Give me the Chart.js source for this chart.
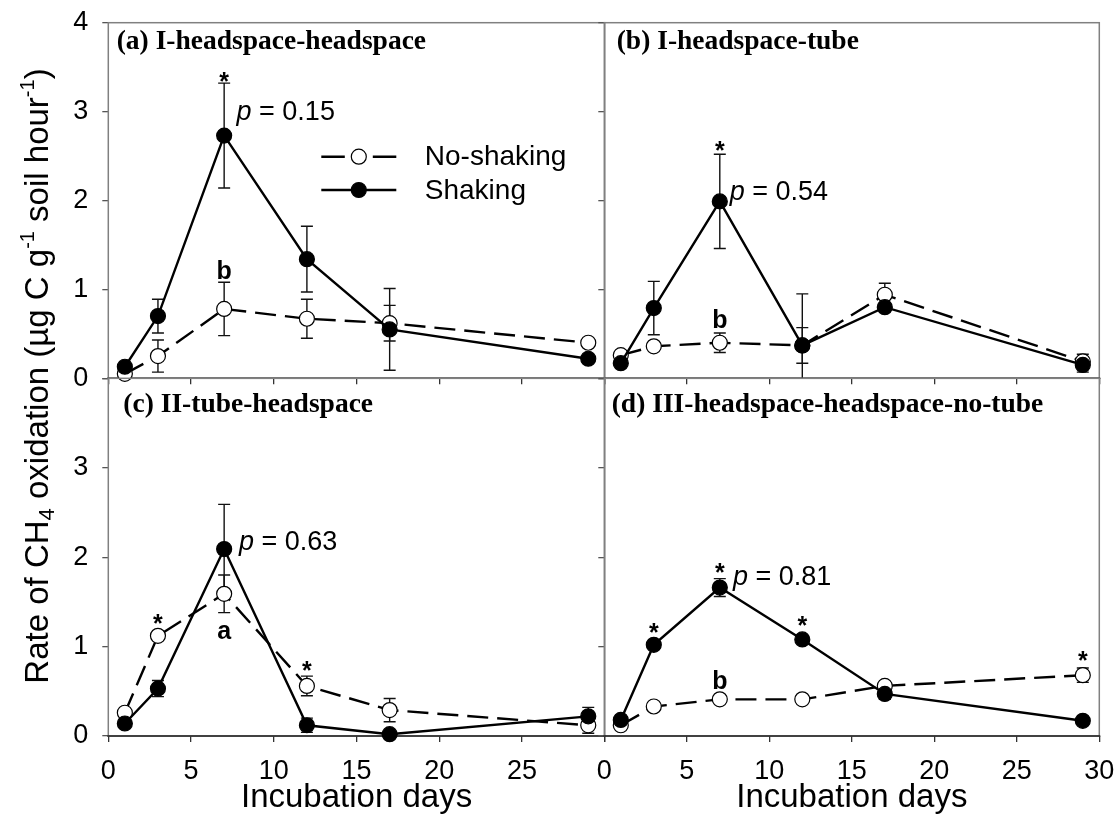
<!DOCTYPE html>
<html>
<head>
<meta charset="utf-8">
<script src="https://cdn.jsdelivr.net/npm/chart.js@4/dist/chart.umd.min.js"></script>
<style>
  html, body { margin: 0; padding: 0; background: #fff; }
  #wrap { position: relative; width: 1119px; height: 818px; overflow: hidden; }
  #wrap canvas { position: absolute; left: 0; top: 0; }
  #ytitle {
    position: absolute; left: -313px; top: 356px; width: 700px; height: 40px;
    line-height: 40px; text-align: center; white-space: nowrap;
    font-family: 'Liberation Sans', Arial, sans-serif; font-size: 33px; color: #000;
    transform: rotate(-90deg); transform-origin: 50% 50%;
  }
  #ytitle sub { font-size: 22px; vertical-align: -6px; line-height: 0; }
  #ytitle sup { font-size: 20px; vertical-align: 14px; line-height: 0; }
</style>
</head>
<body>
<div id="wrap">
  <canvas id="pa" width="1119" height="818"></canvas>
  <canvas id="pb" width="1119" height="818"></canvas>
  <canvas id="pc" width="1119" height="818"></canvas>
  <canvas id="pd" width="1119" height="818"></canvas>
  <div id="ytitle">Rate of CH<sub>4</sub> oxidation (µg C g<sup>-1</sup> soil hour<sup>-1</sup>)</div>
</div>
<script>
// Sampling days
const days = [1, 3, 7, 12, 17, 29];

// Axis ticks
const xTicks = [0, 5, 10, 15, 20, 25, 30];
const yTicks = [0, 1, 2, 3, 4];

const seriesNames = ['No-shaking', 'Shaking'];
const panelTitles = [
  '(a) I-headspace-headspace',
  '(b) I-headspace-tube',
  '(c) II-tube-headspace',
  '(d) III-headspace-headspace-no-tube'
];
const pValues = ['0.15', '0.54', '0.63', '0.81'];

// (a) I-headspace-headspace: means and standard errors
const aNoShaking   = [0.05, 0.25, 0.78, 0.67, 0.62, 0.40];
const aNoShakingSE = [0.02, 0.18, 0.30, 0.22, 0.20, 0.03];
const aShaking     = [0.13, 0.70, 2.73, 1.34, 0.55, 0.22];
const aShakingSE   = [0.03, 0.19, 0.59, 0.37, 0.46, 0.03];

// (b) I-headspace-tube
const bNoShaking   = [0.26, 0.36, 0.40, 0.37, 0.94, 0.19];
const bNoShakingSE = [0.02, 0.03, 0.11, 0.20, 0.13, 0.08];
const bShaking     = [0.17, 0.79, 1.99, 0.37, 0.80, 0.15];
const bShakingSE   = [0.03, 0.30, 0.53, 0.58, 0.05, 0.08];

// (c) II-tube-headspace
const cNoShaking   = [0.26, 1.12, 1.59, 0.56, 0.29, 0.12];
const cNoShakingSE = [0.02, 0.05, 0.21, 0.11, 0.13, 0.09];
const cShaking     = [0.14, 0.53, 2.09, 0.12, 0.02, 0.22];
const cShakingSE   = [0.03, 0.09, 0.50, 0.08, 0.02, 0.10];

// (d) III-headspace-headspace-no-tube
const dNoShaking   = [0.12, 0.33, 0.41, 0.41, 0.56, 0.68];
const dNoShakingSE = [0.02, 0.03, 0.03, 0.03, 0.03, 0.08];
const dShaking     = [0.18, 1.02, 1.66, 1.08, 0.47, 0.17];
const dShakingSE   = [0.03, 0.03, 0.10, 0.03, 0.06, 0.03];

// Significance marks (day, rate level) for each panel
const aStars = [[7, 3.40]];
const bStars = [[7, 2.62]];
const cStars = [[3, 1.32], [12, 0.79]];
const dStars = [[3, 1.22], [7, 1.89], [12, 1.30], [29, 0.91]];
const aLetters = [[7, 1.22, 'b']];
const bLetters = [[7, 0.67, 'b']];
const cLetters = [[7, 1.19, 'a']];
const dLetters = [[7, 0.63, 'b']];
const pAnchors = [[7.75, 3.02], [7.6, 2.12], [7.9, 2.19], [7.8, 1.80]];

const SANS = "'Liberation Sans', Arial, sans-serif";
const SERIF = "'Liberation Serif', 'Times New Roman', serif";
Chart.defaults.font.family = SANS;
Chart.defaults.color = '#000';

const AXIS_W = 60, AXIS_H = 82, W = 1119, H = 818;
const DASH = [21, 9];

function pts(vals) { return vals.map((v, i) => ({ x: days[i], y: v })); }

function makeSets(noVals, noSE, shVals, shSE) {
  return [
    {
      label: seriesNames[0], data: pts(noVals), se: noSE, order: 2,
      borderColor: '#000', borderWidth: 2.4, borderDash: DASH,
      pointRadius: 7.5, pointBackgroundColor: '#fff', pointBorderColor: '#000',
      pointBorderWidth: 1.2, clip: false, tension: 0
    },
    {
      label: seriesNames[1], data: pts(shVals), se: shSE, order: 1,
      borderColor: '#000', borderWidth: 2.4,
      pointRadius: 7.5, pointBackgroundColor: '#000', pointBorderColor: '#000',
      pointBorderWidth: 1.2, clip: false, tension: 0
    }
  ];
}

// Frame, error bars and in-panel text
const panelDecor = {
  id: 'panelDecor',
  beforeDatasetsDraw(chart, args, o) {
    const { ctx, chartArea: a, scales: { x, y } } = chart;
    ctx.save();
    ctx.lineWidth = 1.5;
    ctx.strokeStyle = '#808080';
    ctx.strokeRect(a.left, a.top, a.right - a.left, a.bottom - a.top);
    ctx.strokeStyle = '#222';
    ctx.beginPath(); ctx.moveTo(a.left - 1, a.bottom); ctx.lineTo(a.right + 1, a.bottom); ctx.stroke();
    // error bars
    ctx.strokeStyle = '#111';
    ctx.lineWidth = 1.4;
    chart.data.datasets.forEach(ds => {
      ds.data.forEach((p, i) => {
        const e = ds.se[i];
        const px = x.getPixelForValue(p.x);
        const lo = Math.max(p.y - e, y.min);
        const yt = y.getPixelForValue(p.y + e);
        const yb = y.getPixelForValue(lo);
        ctx.beginPath();
        ctx.moveTo(px, yt); ctx.lineTo(px, yb);
        ctx.moveTo(px - 6, yt); ctx.lineTo(px + 6, yt);
        if (p.y - e > y.min) { ctx.moveTo(px - 6, yb); ctx.lineTo(px + 6, yb); }
        ctx.stroke();
      });
    });
    ctx.restore();
  },
  afterDatasetsDraw(chart, args, o) {
    const { ctx, chartArea: a, scales: { x, y } } = chart;
    ctx.save();
    ctx.fillStyle = '#000';
    // panel title
    ctx.font = 'bold 27.5px ' + SERIF;
    ctx.textAlign = 'left'; ctx.textBaseline = 'alphabetic';
    ctx.fillText(o.title, a.left + o.titleDx, a.top + o.titleDy);
    // stars
    ctx.font = 'bold 25px ' + SANS;
    ctx.textAlign = 'center';
    o.stars.forEach(([d, v]) => ctx.fillText('*', x.getPixelForValue(d), y.getPixelForValue(v) + 14));
    // letters
    o.letters.forEach(([d, v, t]) => ctx.fillText(t, x.getPixelForValue(d), y.getPixelForValue(v) + 9));
    // p value
    const px = x.getPixelForValue(o.p[0]), py = y.getPixelForValue(o.p[1]) + 10;
    ctx.textAlign = 'left';
    ctx.font = 'italic 27px ' + SANS;
    ctx.fillText('p', px, py);
    const pw = ctx.measureText('p').width;
    ctx.font = '27px ' + SANS;
    ctx.fillText(' = ' + o.pText, px + pw, py);
    // legend
    if (o.legend) {
      const rows = [a.top + 134, a.top + 167.3];
      chart.data.datasets.forEach((ds, i) => {
        const ly = rows[i];
        const x0 = a.left + 213, x1 = a.left + 288, xm = (x0 + x1) / 2;
        ctx.strokeStyle = ds.borderColor; ctx.lineWidth = ds.borderWidth;
        ctx.beginPath();
        if (ds.borderDash) {
          ctx.moveTo(x0, ly); ctx.lineTo(xm - 14, ly);
          ctx.moveTo(xm + 14, ly); ctx.lineTo(x1, ly);
        } else {
          ctx.moveTo(x0, ly); ctx.lineTo(x1, ly);
        }
        ctx.stroke();
        ctx.beginPath(); ctx.arc(xm, ly, ds.pointRadius, 0, Math.PI * 2);
        ctx.fillStyle = ds.pointBackgroundColor; ctx.fill();
        ctx.lineWidth = ds.pointBorderWidth; ctx.strokeStyle = ds.pointBorderColor; ctx.stroke();
        ctx.fillStyle = '#000';
        ctx.font = '28px ' + SANS; ctx.textBaseline = 'middle';
        ctx.fillText(ds.label, a.left + 316.5, ly + 1);
      });
    }
    ctx.restore();
  }
};

function makePanel(id, area, sets, deco, showX, showY, xLabelFilter, yLabelFilter) {
  const pad = {
    left: area.left - AXIS_W,
    right: W - area.right,
    top: area.top,
    bottom: Math.max(0, H - area.bottom - AXIS_H)
  };
  return new Chart(document.getElementById(id), {
    type: 'line',
    data: { datasets: sets },
    options: {
      responsive: false, animation: false, events: [],
      layout: { padding: pad, autoPadding: false },
      plugins: { legend: { display: false }, tooltip: { enabled: false }, panelDecor: deco },
      scales: {
        x: {
          type: 'linear', min: xTicks[0], max: xTicks[xTicks.length - 1],
          afterBuildTicks(s) { s.ticks = xTicks.map(v => ({ value: v })); },
          afterFit(s) {
            s.height = Math.min(AXIS_H, H - area.bottom);
            s.paddingLeft = 0; s.paddingRight = 0; s.paddingTop = 0; s.paddingBottom = 0;
          },
          border: { display: false },
          grid: { drawOnChartArea: false, drawTicks: true, tickLength: 6, color: '#333', lineWidth: 1.3 },
          ticks: {
            display: showX, padding: 13, font: { size: 27 }, maxRotation: 0, autoSkip: false,
            callback: v => xLabelFilter(v) ? String(v) : ''
          },
          title: {
            display: showX, text: 'Incubation days', font: { size: 33 },
            padding: { top: 0, bottom: 0 }
          }
        },
        y: {
          type: 'linear', min: yTicks[0], max: yTicks[yTicks.length - 1],
          afterBuildTicks(s) { s.ticks = yTicks.map(v => ({ value: v })); },
          afterFit(s) {
            s.width = AXIS_W;
            s.paddingLeft = 0; s.paddingRight = 0; s.paddingTop = 0; s.paddingBottom = 0;
          },
          border: { display: false },
          grid: { drawOnChartArea: false, drawTicks: true, tickLength: 6, color: '#555', lineWidth: 1.3 },
          ticks: {
            display: showY, padding: 14, font: { size: 27 },
            callback: v => yLabelFilter(v) ? String(v) : ''
          }
        }
      }
    },
    plugins: [panelDecor]
  });
}

const LEFT = { l: 108.3, r: 604.8 }, RIGHT = { l: 604.3, r: 1099.3 };
const TOP = { t: 22.7, b: 378.3 }, BOT = { t: 378.3, b: 736 };
const all = () => true;

makePanel('pa', { left: LEFT.l, right: LEFT.r, top: TOP.t, bottom: TOP.b },
  makeSets(aNoShaking, aNoShakingSE, aShaking, aShakingSE),
  { title: panelTitles[0], titleDx: 8.4, titleDy: 26.3, stars: aStars, letters: aLetters,
    p: pAnchors[0], pText: pValues[0], legend: true },
  false, true, all, all);

makePanel('pb', { left: RIGHT.l, right: RIGHT.r, top: TOP.t, bottom: TOP.b },
  makeSets(bNoShaking, bNoShakingSE, bShaking, bShakingSE),
  { title: panelTitles[1], titleDx: 12.4, titleDy: 26.3, stars: bStars, letters: bLetters,
    p: pAnchors[1], pText: pValues[1], legend: false },
  false, false, all, all);

makePanel('pc', { left: LEFT.l, right: LEFT.r, top: BOT.t, bottom: BOT.b },
  makeSets(cNoShaking, cNoShakingSE, cShaking, cShakingSE),
  { title: panelTitles[2], titleDx: 15, titleDy: 34, stars: cStars, letters: cLetters,
    p: pAnchors[2], pText: pValues[2], legend: false },
  true, true, v => v < 30, v => v < 4);

makePanel('pd', { left: RIGHT.l, right: RIGHT.r, top: BOT.t, bottom: BOT.b },
  makeSets(dNoShaking, dNoShakingSE, dShaking, dShakingSE),
  { title: panelTitles[3], titleDx: 7.4, titleDy: 34, stars: dStars, letters: dLetters,
    p: pAnchors[3], pText: pValues[3], legend: false },
  true, false, all, all);
</script>
</body>
</html>
